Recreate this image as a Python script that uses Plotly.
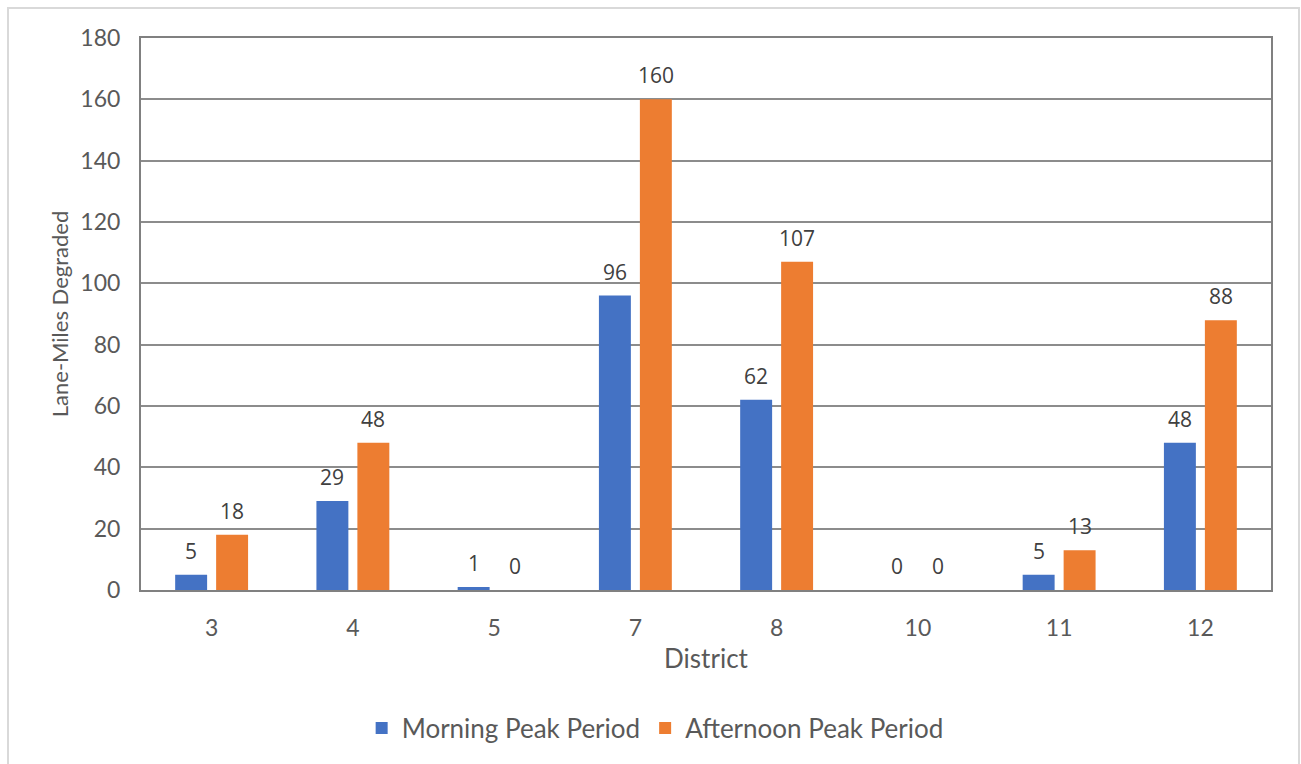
import plotly.graph_objects as go

# Lane-miles degraded by district, morning vs afternoon peak
districts = ["3", "4", "5", "7", "8", "10", "11", "12"]
morning = [5, 29, 1, 96, 62, 0, 5, 48]
afternoon = [18, 48, 0, 160, 107, 0, 13, 88]
series_names = ["Morning Peak Period", "Afternoon Peak Period"]
y_ticks = list(range(0, 181, 20))

BLUE = "#4472C4"
ORANGE = "#ED7D31"
TEXT = "#595959"
LABEL = "#404040"

W, H = 1301, 764
M_L, M_R, M_T, M_B = 141, 30, 38, 174
BARGAP = 0.42
BARGROUPGAP = 0.22

fig = go.Figure()
fig.add_trace(go.Bar(x=districts, y=morning, name=series_names[0],
                     marker=dict(color=BLUE, line=dict(width=0))))
fig.add_trace(go.Bar(x=districts, y=afternoon, name=series_names[1],
                     marker=dict(color=ORANGE, line=dict(width=0))))

# value labels above each bar (category index positions, shifted to each bar's slot)
plot_w = W - M_L - M_R
cat_w = plot_w / len(districts)
slot = (1 - BARGAP) * cat_w / 2
annotations = []
for vals, shift in ((morning, -slot / 2), (afternoon, slot / 2)):
    for i, v in enumerate(vals):
        annotations.append(dict(
            x=i, y=v, xref="x", yref="y", text=str(v), showarrow=False,
            xshift=shift, yshift=24, yanchor="middle",
            font=dict(family="Open Sans, Liberation Sans, sans-serif", size=21, color=LABEL),
        ))

# light frame around the whole chart
plot_h = H - M_T - M_B
fx0 = (8 - M_L) / plot_w
fx1 = (1299 - M_L) / plot_w
fy1 = (H - 8 - M_B) / plot_h
fy0 = (-10 - M_B) / plot_h

fig.update_layout(
    width=W, height=H,
    margin=dict(l=M_L, r=M_R, t=M_T, b=M_B),
    paper_bgcolor="white", plot_bgcolor="white",
    barmode="group", bargap=BARGAP, bargroupgap=BARGROUPGAP,
    font=dict(family="Lato, Noto Sans, sans-serif", size=23, color=TEXT),
    annotations=annotations,
    shapes=[dict(type="rect", xref="paper", yref="paper",
                 x0=fx0, x1=fx1, y0=fy0, y1=fy1,
                 line=dict(color="#D9D9D9", width=2), layer="below")],
    legend=dict(orientation="h", x=0.455, xanchor="center", y=-0.25, yanchor="middle",
                font=dict(size=26, color=TEXT), itemwidth=30, traceorder="normal"),
    xaxis=dict(
        title=dict(text="District", font=dict(size=26, color=TEXT), standoff=10),
        type="category", categoryorder="array", categoryarray=districts,
        range=[-0.5, len(districts) - 0.5],
        showline=True, linecolor="#808080", linewidth=2, mirror=True,
        showgrid=False, ticks="", ticklabelstandoff=16, tickfont=dict(size=23, color=TEXT),
    ),
    yaxis=dict(
        title=dict(text="Lane-Miles Degraded", font=dict(size=22, color=TEXT), standoff=6),
        range=[0, 180], tickvals=y_ticks, showline=True, linecolor="#808080", linewidth=2,
        mirror=True, showgrid=True, gridcolor="#8C8C8C", gridwidth=1.5, zeroline=False,
        ticks="", ticklabelstandoff=14, tickfont=dict(size=23, color=TEXT),
    ),
)

fig.write_html("out.html")
